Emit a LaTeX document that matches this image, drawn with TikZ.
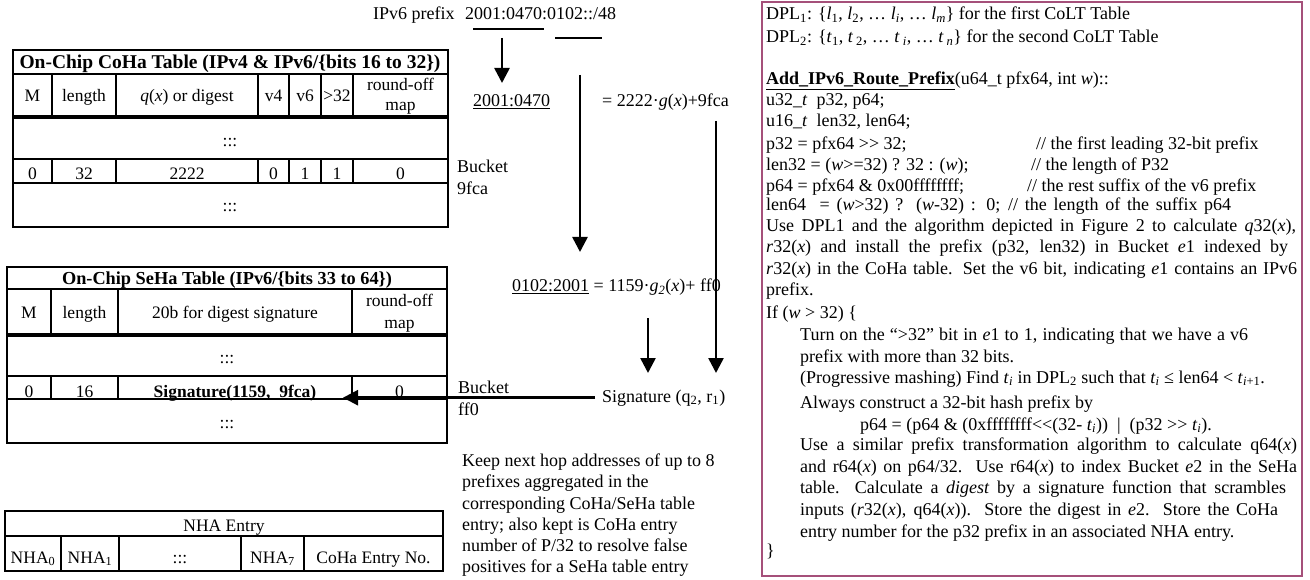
\documentclass[tikz,border=0pt]{standalone}
\usepackage{fontspec}
\setmainfont{Liberation Serif}[Ligatures=TeXOff]
\usetikzlibrary{arrows.meta}
\newcommand{\sbs}[1]{\textsubscript{#1}}
\newcommand{\myfs}{\fontsize{17.5}{21.5}\selectfont}
\newcommand{\midfs}{\fontsize{18}{21.5}\selectfont}
\newcommand{\boxfs}{\fontsize{18}{21.5}\selectfont}
\newcommand{\jst}[2]{\makebox[#1pt][s]{#2}}
\definecolor{boxc}{RGB}{165,80,122}
\begin{document}
\begin{tikzpicture}[x=1pt,y=-1pt,
  every node/.style={inner sep=0pt},
  t/.style={anchor=base west, font=\boxfs},
  tm/.style={anchor=base west, font=\midfs},
  c/.style={anchor=base, font=\myfs},
  gridl/.style={line width=1.2pt},
  sepl/.style={line width=3.5pt},
  arr/.style={line width=2.6pt,-{Triangle[width=15pt,length=15pt]}},
  uline/.style={line width=2pt}]
\useasboundingbox (0,0) rectangle (1310,580);

% ---------- CoHa table ----------
\draw[gridl] (13,50) rectangle (448,227);
\draw[gridl] (13,74) -- (448,74) (13,159) -- (448,159) (13,183) -- (448,183);
\draw[sepl] (13,117) -- (448,117);
\foreach \x in {52,116,258,289,321,353} \draw[gridl] (\x,74) -- (\x,117) (\x,159) -- (\x,183);
\node[c, font=\bfseries\fontsize{19.5}{22}\selectfont] (cohaT) at (230,69) {On-Chip CoHa Table (IPv4 \& IPv6/\{bits 16 to 32\})};
\node[c] (chM) at (32.5,102) {M};
\node[c] (chL) at (84,102) {length};
\node[c] (chQ) at (187,102) {\textit{q}(\textit{x}) or digest};
\node[c] (ch4) at (273.5,102) {v4};
\node[c] (ch6) at (305,102) {v6};
\node[c] (chG) at (337,102) {>32};
\node[c] (chR1) at (400.5,91) {round-off};
\node[c] (chR2) at (400.5,111) {map};
\node[c] (cd1) at (230,147) {:::};
\node[c] (cd2) at (230,212) {:::};
\node[c] (cv1) at (32.5,180) {0};
\node[c] (cv2) at (84,180) {32};
\node[c] (cv3) at (187,180) {2222};
\node[c] (cv4) at (273.5,180) {0};
\node[c] (cv5) at (305,180) {1};
\node[c] (cv6) at (337,180) {1};
\node[c] (cv7) at (400.5,180) {0};

% ---------- SeHa table ----------
\draw[gridl] (7,267) rectangle (447,443);
\draw[gridl] (7,289) -- (447,289) (7,376) -- (447,376) (7,399) -- (447,399);
\draw[sepl] (7,335) -- (447,335);
\foreach \x in {51,118,352} \draw[gridl] (\x,289) -- (\x,335) (\x,376) -- (\x,399);
\node[c, font=\bfseries\fontsize{18.3}{22}\selectfont] (sehaT) at (227,284) {On-Chip SeHa Table (IPv6/\{bits 33 to 64\})};
\node[c] (shM) at (29,318) {M};
\node[c] (shL) at (84.5,318) {length};
\node[c] (shD) at (235,318) {20b for digest signature};
\node[c] (shR1) at (399.5,307) {round-off};
\node[c] (shR2) at (399.5,328) {map};
\node[c] (sd1) at (227,363) {:::};
\node[c] (sd2) at (227,428) {:::};
\node[c] (sv1) at (29,397) {0};
\node[c] (sv2) at (84.5,397) {16};
\node[c] (sv3) at (235,397) {\textbf{Signature(1159,\ \ 9fca)}};
\node[c] (sv4) at (399.5,397) {0};

% ---------- NHA entry ----------
\draw[gridl] (5,511) rectangle (443,571);
\draw[gridl] (5,536) -- (443,536);
\foreach \x in {61,119,241,304} \draw[gridl] (\x,536) -- (\x,571);
\node[c] (nhaT) at (224,531) {NHA Entry};
\node[c] (n0) at (33,563) {NHA\sbs{0}};
\node[c] (n1) at (90,563) {NHA\sbs{1}};
\node[c] (nd) at (180,563) {:::};
\node[c] (n7) at (272.5,563) {NHA\sbs{7}};
\node[c] (nco) at (373.5,563) {CoHa Entry No.};

% ---------- middle flow ----------
\node[tm] (ipv6) at (373,20) {IPv6 prefix};
\node[tm] (pfx) at (465,20) {2001:0470:0102::/48};
\draw[uline] (473,29) -- (544,29);
\draw[uline] (555,38) -- (602,38);
\node[tm] (hi) at (473,107) {\underline{2001:0470}};
\node[tm] (eq1) at (602,107) {= 2222·\textit{g}(\textit{x})+9fca};
\node[tm] (lo) at (512,292) {\underline{0102:2001} = 1159·\textit{g}\textsubscript{\textit{2}}(\textit{x})+ ff0};
\node[tm] (sig) at (602,402) {Signature (q\sbs{2}, r\sbs{1})};
\node[tm] (b1a) at (457,173) {Bucket};
\node[tm] (b1b) at (457,195) {9fca};
\node[tm] (b2a) at (458,393) {Bucket};
\node[tm] (b2b) at (458,415) {ff0};

\coordinate (a1s) at (502,38);  \coordinate (a1e) at (502,83);
\coordinate (a2s) at (580,75);  \coordinate (a2e) at (580,252);
\coordinate (a3s) at (648,318); \coordinate (a3e) at (648,373);
\coordinate (a4s) at (716,121); \coordinate (a4e) at (716,373);
\coordinate (sigtip) at (343,399);
\draw[arr] (a1s) -- (a1e);
\draw[arr] (a2s) -- (a2e);
\draw[arr] (a3s) -- (a3e);
\draw[arr] (a4s) -- (a4e);
\draw[arr] ([xshift=-7pt]sig.west) -- (sig.west -| sigtip);

\node[tm] (k1) at (462,466) {Keep next hop addresses of up to 8};
\node[tm] (k2) at (462,487.5) {prefixes aggregated in the};
\node[tm] (k3) at (462,509) {corresponding CoHa/SeHa table};
\node[tm] (k4) at (462,530) {entry; also kept is CoHa entry};
\node[tm] (k5) at (462,551.5) {number of P/32 to resolve false};
\node[tm] (k6) at (462,572) {positives for a SeHa table entry};

% ---------- right box ----------
\draw[boxc, line width=2.5pt] (762,2) rectangle (1302,576);
\node[t] (r1) at (766,20) {DPL\sbs{1}: \{\textit{l}\sbs{1}, \textit{l}\sbs{2}, … \textit{l}\sbs{\textit{i}}, … \textit{l}\sbs{\textit{m}}\} for the first CoLT Table};
\node[t] (r2) at (766,43) {DPL\sbs{2}: \{\textit{t}\sbs{1}, \textit{t}\,\sbs{2}, … \textit{t}\,\sbs{\textit{i}}, … \textit{t}\,\sbs{\textit{n}}\} for the second CoLT Table};
\node[t] (r3) at (766,85) {\underline{\textbf{Add\_IPv6\_Route\_Prefix}}(u64\_t pfx64, int \textit{w})::};
\node[t] (r4) at (766,106) {u32\_\textit{t}\ \ p32, p64;};
\node[t] (r5) at (766,127) {u16\_\textit{t}\ \ len32, len64;};
\node[t] (r6) at (766,150) {p32 = pfx64 >> 32;};
\node[t] (r6c) at (1036,150) {// the first leading 32-bit prefix};
\node[t] (r7) at (766,171) {len32 = (\textit{w}>=32) ? 32 : (\textit{w});};
\node[t] (r7c) at (1031,171) {// the length of P32};
\node[t] (r8) at (766,192) {p64 = pfx64 \& 0x00ffffffff;};
\node[t] (r8c) at (1027,192) {// the rest suffix of the v6 prefix};
\node[t] (r9) at (766,211) {\jst{465}{len64\ \ = (\textit{w}>32) ? (\textit{w}-32) : 0; // the length of the suffix p64}};
\node[t] (r10) at (766,232) {\jst{530}{Use DPL1 and the algorithm depicted in Figure 2 to calculate \textit{q}32(\textit{x}),}};
\node[t] (r11) at (766,253) {\jst{522}{\textit{r}32(\textit{x}) and install the prefix (p32, len32) in Bucket \textit{e}1 indexed by}};
\node[t] (r12) at (766,275) {\jst{531}{\textit{r}32(\textit{x}) in the CoHa table. Set the v6 bit, indicating \textit{e}1 contains an IPv6}};
\node[t] (r13) at (766,296) {prefix.};
\node[t] (r14) at (766,318) {If (\textit{w} > 32) \{};
\node[t] (r15) at (800,340) {\jst{448}{Turn on the “>32” bit in \textit{e}1 to 1, indicating that we have a v6}};
\node[t] (r16) at (800,362) {prefix with more than 32 bits.};
\node[t] (r17) at (800,383) {(Progressive mashing) Find \textit{t}\sbs{\textit{i}} in DPL\sbs{2} such that \textit{t}\sbs{\textit{i}} ≤ len64 < \textit{t}\sbs{\textit{i}+1}.};
\node[t] (r18) at (800,408) {Always construct a 32-bit hash prefix by};
\node[t] (r19) at (860,430) {p64 = (p64 \& (0xffffffff<<(32- \textit{t}\sbs{\textit{i}}))\ \ |\ \ (p32 >> \textit{t}\sbs{\textit{i}}).};
\node[t] (r20) at (800,450) {\jst{497}{Use a similar prefix transformation algorithm to calculate q64(\textit{x})}};
\node[t] (r21) at (800,472) {\jst{497}{and r64(\textit{x}) on p64/32.\ \ Use r64(\textit{x}) to index Bucket \textit{e}2 in the SeHa}};
\node[t] (r22) at (800,493) {\jst{486}{table.\ \ Calculate a \textit{digest} by a signature function that scrambles}};
\node[t] (r23) at (800,515) {\jst{478}{inputs (\textit{r}32(\textit{x}), q64(\textit{x})).\ \ Store the digest in \textit{e}2.\ \ Store the CoHa}};
\node[t] (r24) at (800,537) {entry number for the p32 prefix in an associated NHA entry.};
\node[t] (r25) at (766,556) {\}};
\end{tikzpicture}
\end{document}
